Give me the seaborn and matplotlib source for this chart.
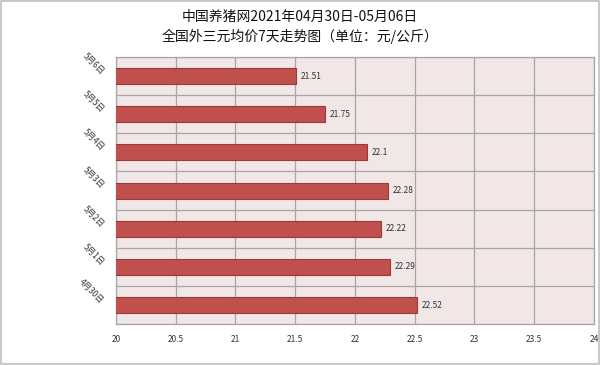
import matplotlib
matplotlib.use('Agg')
import matplotlib.pyplot as plt
import seaborn as sns
import pandas as pd
import numpy as np
from matplotlib.patches import Rectangle

# data (top to bottom)
dates = ['5月6日', '5月5日', '5月4日', '5月3日', '5月2日', '5月1日', '4月30日']
prices = [21.51, 21.75, 22.1, 22.28, 22.22, 22.29, 22.52]
xticks = [20, 20.5, 21, 21.5, 22, 22.5, 23, 23.5, 24]

sns.set_style('white')
plt.rcParams['font.family'] = ['Noto Sans CJK SC', 'DejaVu Sans']

df = pd.DataFrame({'date': dates, 'price': prices})

fig = plt.figure(figsize=(6, 3.65), dpi=100)
ax = fig.add_axes([0.193, 0.112, 0.797, 0.732])
ax.set_facecolor('#F2E7E7')

sns.barplot(data=df, y='date', x='price', orient='h', order=dates,
            color='#C0504D', edgecolor='#9C3936', linewidth=0.8,
            width=0.42, saturation=1, ax=ax, zorder=3)

ax.set_xlim(20, 24)
ax.set_ylim(len(dates) - 0.5, -0.5)
ax.set_xticks(xticks)
ax.set_xticklabels([f'{t:g}' for t in xticks], fontsize=6, color='#333333')
ax.set_yticks(range(len(dates)))
ax.set_yticklabels(dates, fontsize=6, rotation=-45, ha='right', va='bottom',
                   color='#333333', rotation_mode='anchor')
ax.set_yticks(np.arange(-0.5, len(dates), 1), minor=True)
ax.tick_params(axis='x', length=0, pad=8)
ax.tick_params(axis='y', which='both', length=0, pad=12)
ax.grid(axis='x', which='major', color='#A6A6A6', linewidth=0.9, zorder=1)
ax.grid(axis='y', which='minor', color='#A6A6A6', linewidth=0.9, zorder=1)
ax.set_axisbelow(True)
for s in ax.spines.values():
    s.set_color('#A6A6A6')
    s.set_linewidth(0.9)
ax.set_xlabel('')
ax.set_ylabel('')

for i, p in enumerate(prices):
    ax.text(p + 0.04, i, f'{p:g}', fontsize=6, va='center', ha='left', color='#333333')

fig.text(0.5, 0.955, '中国养猪网2021年04月30日-05月06日', ha='center', va='center',
         fontsize=10, color='#111111')
fig.text(0.5, 0.9, '全国外三元均价7天走势图（单位：元/公斤）', ha='center', va='center',
         fontsize=10, color='#111111')

fig.patches.append(Rectangle((0.002, 0.003), 0.996, 0.994, transform=fig.transFigure,
                             fill=False, edgecolor='#BFBFBF', linewidth=1.2))

fig.savefig('out.png', dpi=100)
